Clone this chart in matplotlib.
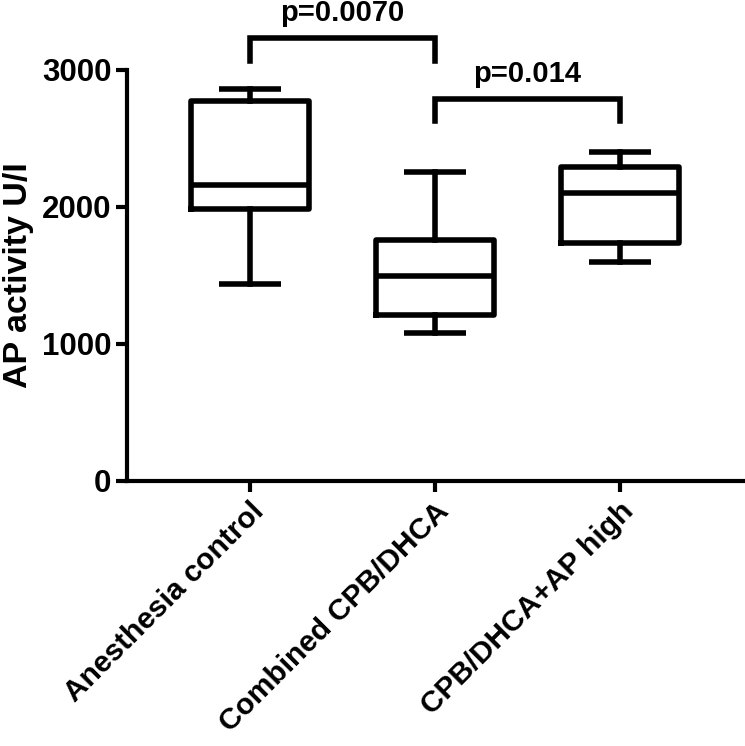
import matplotlib
matplotlib.use("Agg")
import matplotlib.pyplot as plt

# Data
categories = ["Anesthesia control", "Combined CPB/DHCA", "CPB/DHCA+AP high"]
whisker_low = [1437, 1077, 1598]
q1 = [1982, 1208, 1734]
median = [2158, 1498, 2099]
q3 = [2776, 1758, 2289]
whisker_high = [2859, 2257, 2399]
y_ticks = [0, 1000, 2000, 3000]
y_label = "AP activity U/I"
comparisons = [(0, 1, "p=0.0070"), (1, 2, "p=0.014")]
bracket_top = [3232, 2786]
bracket_leg = [3066, 2627]
label_y = [3358, 2915]

plt.rcParams['font.family'] = ['Liberation Sans', 'DejaVu Sans']
plt.rcParams['font.weight'] = 'bold'

fig = plt.figure(figsize=(7.45, 7.46), dpi=100)
ax = fig.add_axes([0.170, 0.3557, 0.829, 0.5505])

positions = [1, 2, 3]
stats = []
for i in range(len(categories)):
    stats.append(dict(med=median[i], q1=q1[i], q3=q3[i],
                      whislo=whisker_low[i], whishi=whisker_high[i],
                      fliers=[], label=categories[i]))

lw = 4.0
ax.bxp(stats, positions=positions, widths=0.64, capwidths=0.335,
       showfliers=False, patch_artist=False,
       boxprops=dict(color='black', linewidth=lw),
       medianprops=dict(color='black', linewidth=lw),
       whiskerprops=dict(color='black', linewidth=lw),
       capprops=dict(color='black', linewidth=lw, solid_capstyle='butt'))

ax.set_xlim(0.333, 3.674)
ax.set_ylim(0, 3000)
ax.set_yticks(y_ticks)
ax.set_yticklabels([str(v) for v in y_ticks], fontsize=22.5, fontweight='bold')
ax.set_xticks(positions)
ax.set_xticklabels(categories, rotation=45, ha='right', rotation_mode='anchor',
                   fontsize=21.5, fontweight='bold')
ax.set_ylabel(y_label, fontsize=24.5, fontweight='bold', labelpad=6)

for s in ['top', 'right']:
    ax.spines[s].set_visible(False)
for s in ['left', 'bottom']:
    ax.spines[s].set_linewidth(3)
ax.tick_params(axis='both', width=3, length=8, color='black')
ax.tick_params(axis='y', pad=3)
ax.tick_params(axis='x', pad=4)

for k, (a, b, txt) in enumerate(comparisons):
    xa, xb = positions[a], positions[b]
    ax.plot([xa, xa, xb, xb], [bracket_leg[k], bracket_top[k], bracket_top[k], bracket_leg[k]],
            color='black', lw=lw, clip_on=False, solid_joinstyle='miter')
    ax.text((xa + xb) / 2, label_y[k], txt, ha='center', va='baseline',
            fontsize=21, fontweight='bold', clip_on=False)

fig.savefig("out.png", dpi=100)
